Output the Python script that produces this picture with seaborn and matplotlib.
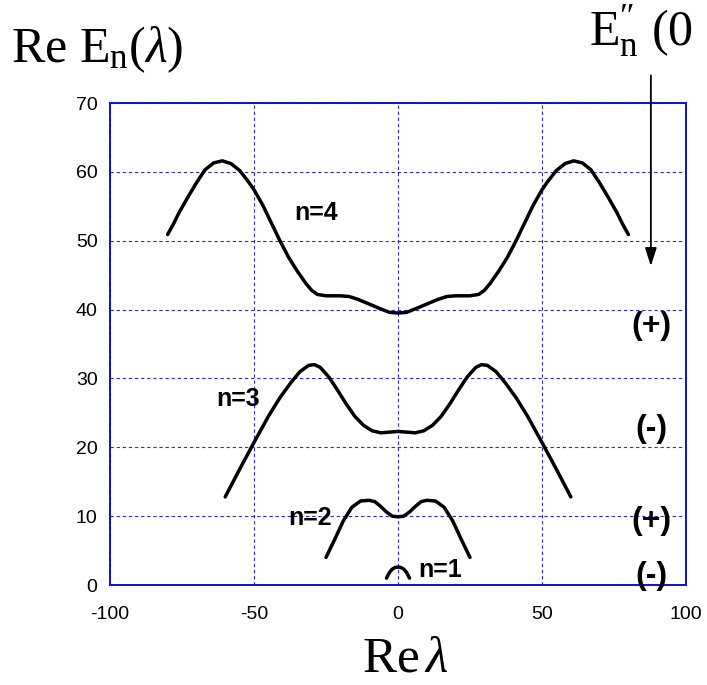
import matplotlib
matplotlib.use("Agg")
import matplotlib.pyplot as plt
import seaborn as sns
import pandas as pd

# ---- data ----
n4_x = [-80, -78, -76, -73, -70, -67, -64, -61, -58, -55, -52, -50, -47, -44, -41, -38, -35, -32, -30, -28, -25, -20, -17, -14, -10, -6, -3, 0,
        3, 6, 10, 14, 17, 20, 25, 28, 30, 32, 35, 38, 41, 44, 47, 50, 52, 55, 58, 61, 64, 67, 70, 73, 76, 78, 80]
n4_y = [50.9, 52.4, 54.1, 56.3, 58.4, 60.3, 61.3, 61.6, 61.2, 60.2, 58.6, 57.4, 55.2, 52.6, 50.0, 47.6, 45.6, 43.8, 42.8, 42.2, 42.0, 42.0, 41.9, 41.5, 40.8, 40.1, 39.6, 39.5,
        39.6, 40.1, 40.8, 41.5, 41.9, 42.0, 42.0, 42.2, 42.8, 43.8, 45.6, 47.6, 50.0, 52.6, 55.2, 57.4, 58.6, 60.2, 61.2, 61.6, 61.3, 60.3, 58.4, 56.3, 54.1, 52.4, 50.9]

n3_x = [-60, -55, -50, -45, -41, -37, -34, -31, -29, -27, -24, -21, -18, -15, -12, -9, -6, -3, 0,
        3, 6, 9, 12, 15, 18, 21, 24, 27, 29, 31, 34, 37, 41, 45, 50, 55, 60]
n3_y = [12.8, 16.8, 20.7, 24.5, 27.2, 29.5, 31.0, 31.9, 32.0, 31.6, 30.2, 28.3, 26.3, 24.5, 23.2, 22.4, 22.1, 22.2, 22.3,
        22.2, 22.1, 22.4, 23.2, 24.5, 26.3, 28.3, 30.2, 31.6, 32.0, 31.9, 31.0, 29.5, 27.2, 24.5, 20.7, 16.8, 12.8]

n2_x = [-25, -22, -19, -16, -13, -10, -8, -6, -4, -2, 0, 2, 4, 6, 8, 10, 13, 16, 19, 22, 25]
n2_y = [4.0, 6.6, 9.3, 11.3, 12.2, 12.3, 12.1, 11.4, 10.6, 10.0, 9.9, 10.0, 10.6, 11.4, 12.1, 12.3, 12.2, 11.3, 9.3, 6.6, 4.0]

n1_x = [-4, -3, -2, -1, 0, 1, 2, 3, 4]
n1_y = [1.0, 1.8, 2.3, 2.55, 2.6, 2.55, 2.3, 1.8, 1.0]

curve_labels = ["n=4", "n=3", "n=2", "n=1"]
curve_label_x = [-28.5, -55.5, -30.5, 14.5]
curve_label_y = [54.0, 27.0, 9.8, 2.2]

sign_labels = ["(+)", "(-)", "(+)", "(-)"]
sign_y = [37.6, 22.6, 9.3, 1.3]
sign_x = 88

xticks = [-100, -50, 0, 50, 100]
yticks = [0, 10, 20, 30, 40, 50, 60, 70]

# ---- build figure ----
sns.set_style("white")
plt.rcParams["font.family"] = ["Liberation Sans", "DejaVu Sans"]
plt.rcParams["text.color"] = "black"
plt.rcParams["xtick.color"] = "black"
plt.rcParams["ytick.color"] = "black"
plt.rcParams["mathtext.fontset"] = "custom"
plt.rcParams["mathtext.rm"] = "Liberation Serif"
plt.rcParams["mathtext.it"] = "Liberation Serif:italic"

fig = plt.figure(figsize=(7.07, 6.85), dpi=100)
ax = fig.add_axes([110 / 707, 100 / 685, 576 / 707, 482 / 685])

frames = []
for name, xs, ys in [("n4", n4_x, n4_y), ("n3", n3_x, n3_y), ("n2", n2_x, n2_y), ("n1", n1_x, n1_y)]:
    frames.append(pd.DataFrame({"x": xs, "y": ys, "curve": name}))
df = pd.concat(frames, ignore_index=True)

for name, sub in df.groupby("curve", sort=False):
    sns.lineplot(data=sub, x="x", y="y", ax=ax, color="black", lw=2.5,
                 sort=False, estimator=None, legend=False)

ax.set_xlim(-100, 100)
ax.set_ylim(0, 70)
ax.set_xticks(xticks)
ax.set_yticks(yticks)
ax.set_xticklabels([str(t) for t in xticks], fontsize=14)
ax.set_yticklabels([str(t) for t in yticks], fontsize=14)
ax.tick_params(axis="x", length=0, pad=15, labelcolor="black")
ax.tick_params(axis="y", length=0, pad=9, labelcolor="black")
ax.set_xlabel("")
ax.set_ylabel("")

ax.grid(True, color="#2a2ae0", linestyle=(0, (3, 2.5)), lw=0.8)
for s in ax.spines.values():
    s.set_color("#1010d0")
    s.set_linewidth(1.4)
    s.set_visible(True)

for lab, lx, ly in zip(curve_labels, curve_label_x, curve_label_y):
    ax.text(lx, ly, lab, fontsize=18, fontweight="bold", ha="center", va="center", color="black")

for lab, ly in zip(sign_labels, sign_y):
    ax.text(sign_x, ly, lab, fontsize=23, fontweight="bold", ha="center", va="center",
            clip_on=False, color="black")

# arrow from E''_n(0) label
ax.annotate("", xy=(87.8, 46.3), xytext=(87.8, 74.0), annotation_clip=False,
            arrowprops=dict(arrowstyle="-|>,head_length=1.1,head_width=0.35", color="black", lw=1.3,
                            shrinkA=0, shrinkB=0))

# titles
fig.text(11 / 707, 1 - 62 / 685, r"Re E$_{\rm n}$($\lambda$)", fontsize=36,
         family="Liberation Serif", ha="left", va="baseline", color="black")
fig.text(589 / 707, 1 - 46 / 685, "E$^{\u2033}_{\\rm n}$ (0", fontsize=36,
         family="Liberation Serif", ha="left", va="baseline", color="black")
fig.text(405 / 707, 1 - 672 / 685, r"Re$\,\lambda$", fontsize=37,
         family="Liberation Serif", ha="center", va="baseline", color="black")

fig.savefig("out.png", dpi=100)
